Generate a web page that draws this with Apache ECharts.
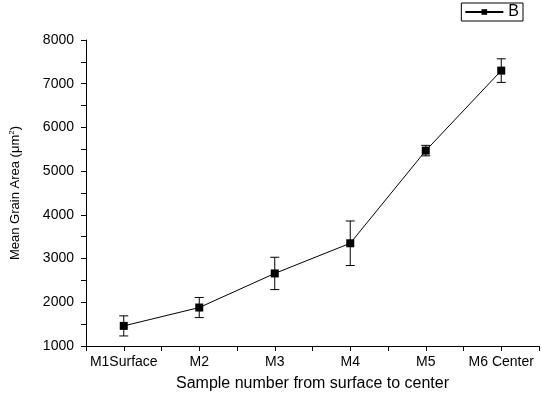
<!DOCTYPE html>
<html>
<head>
<meta charset="utf-8">
<script src="https://cdn.jsdelivr.net/npm/echarts@6/dist/echarts.min.js"></script>
<style>
  html, body { margin: 0; padding: 0; background: #fff; }
  #chart { width: 542px; height: 397px; }
</style>
</head>
<body>
<div id="chart"></div>
<script>
// samples along the x axis
var categories = ['M1Surface', 'M2', 'M3', 'M4', 'M5', 'M6 Center']
// mean grain area and error (um^2)
var meanArea = [1460, 1880, 2660, 3350, 5470, 7300]
var errArea = [230, 230, 370, 510, 120, 270]
var yTicks = [1000, 2000, 3000, 4000, 5000, 6000, 7000, 8000]

var lineData = meanArea.map(function(v, i) { return [i + 1, v] })
var errData = meanArea.map(function(v, i) { return [i + 1, v - errArea[i], v + errArea[i]] })

var chart = echarts.init(document.getElementById('chart'))
var font = 'Liberation Sans, Arial, sans-serif'

var option = {
  animation: false,
  textStyle: { fontFamily: font },
  grid: { left: 86, right: 1, top: 40, bottom: 50, containLabel: false },
  legend: {
    right: 19,
    top: 3,
    padding: [1, 4, 1, 3],
    borderColor: '#000',
    borderWidth: 1,
    itemWidth: 38,
    itemHeight: 7,
    itemGap: 4,
    data: ['B'],
    textStyle: { color: '#000', fontSize: 16, fontFamily: font }
  },
  xAxis: {
    type: 'value',
    min: 0.5,
    max: 6.5,
    interval: 0.5,
    name: 'Sample number from surface to center',
    nameLocation: 'middle',
    nameGap: 30,
    nameTextStyle: { color: '#000', fontSize: 16, fontFamily: font },
    splitLine: { show: false },
    axisLine: { onZero: false, lineStyle: { color: '#000', width: 1 } },
    axisTick: { length: 5, lineStyle: { color: '#000' } },
    axisLabel: {
      color: '#000',
      fontSize: 14,
      margin: 9,
      formatter: function(v) {
        return Number.isInteger(v) ? (categories[v - 1] || '') : ''
      }
    }
  },
  yAxis: {
    type: 'value',
    min: 1000,
    max: 8000,
    interval: 500,
    name: 'Mean Grain Area (μm{sup|2})',
    nameLocation: 'middle',
    nameGap: 64,
    nameRotate: 90,
    nameTextStyle: {
      color: '#000',
      fontSize: 13,
      fontFamily: font,
      rich: { sup: { fontSize: 8, verticalAlign: 'top', padding: [0, 0, 6, 0], color: '#000' } }
    },
    splitLine: { show: false },
    axisLine: { show: true, lineStyle: { color: '#000', width: 1 } },
    axisTick: { length: 5, lineStyle: { color: '#000' } },
    axisLabel: {
      color: '#000',
      fontSize: 14,
      margin: 12,
      formatter: function(v) {
        return yTicks.indexOf(v) >= 0 ? String(v) : ''
      }
    }
  },
  series: [
    {
      name: 'B',
      type: 'line',
      data: lineData,
      symbol: 'rect',
      symbolSize: 8,
      itemStyle: { color: '#000' },
      lineStyle: { color: '#000', width: 1 },
      z: 3
    },
    {
      name: 'err',
      type: 'custom',
      data: errData,
      z: 2,
      renderItem: function(params, api) {
        var x = api.value(0)
        var lo = api.coord([x, api.value(1)])
        var hi = api.coord([x, api.value(2)])
        var w = 4.5
        var st = { stroke: '#000', lineWidth: 1 }
        return {
          type: 'group',
          children: [
            { type: 'line', shape: { x1: lo[0], y1: lo[1], x2: hi[0], y2: hi[1] }, style: st },
            { type: 'line', shape: { x1: lo[0] - w, y1: lo[1], x2: lo[0] + w, y2: lo[1] }, style: st },
            { type: 'line', shape: { x1: hi[0] - w, y1: hi[1], x2: hi[0] + w, y2: hi[1] }, style: st }
          ]
        }
      }
    }
  ]
}
chart.setOption(option)
window.addEventListener('resize', function() {
  chart.resize()
})
</script>
</body>
</html>
